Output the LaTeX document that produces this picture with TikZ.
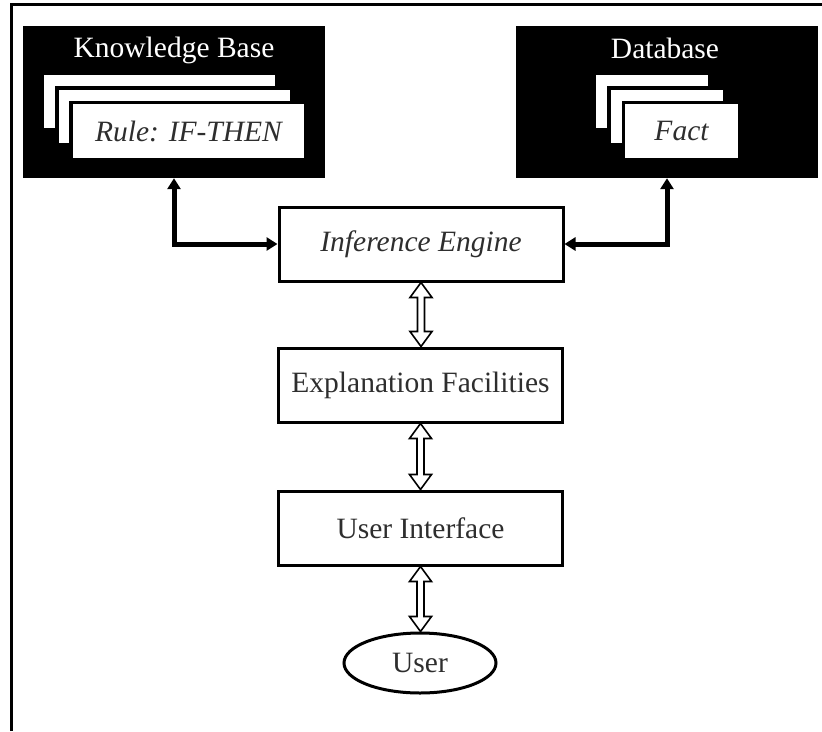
\documentclass[tikz,border=0pt]{standalone}
\usepackage{fontspec}
\setmainfont{Liberation Serif}
\usetikzlibrary{arrows.meta,shapes.geometric,calc}

% hollow double-headed arrow between two anchors lying on one vertical
\newcommand\hollowlink[2]{%
  \draw[hollow] let \p1=(#1), \p2=(#2) in
    (\x1,\y1) -- (\x1+11pt,\y1-15pt) -- (\x1+3.5pt,\y1-15pt)
    -- (\x1+3.5pt,\y2+15pt) -- (\x1+11pt,\y2+15pt) -- (\x1,\y2)
    -- (\x1-11pt,\y2+15pt) -- (\x1-3.5pt,\y2+15pt)
    -- (\x1-3.5pt,\y1-15pt) -- (\x1-11pt,\y1-15pt) -- cycle;}

\begin{document}
\begin{tikzpicture}[x=1pt,y=-1pt,
  txt/.style={font=\fontsize{29.5}{32}\selectfont, text=black!82},
  block/.style={txt, draw=black, line width=3pt, fill=white,
    minimum width=284pt, minimum height=74pt, inner sep=0pt},
  store/.style={fill=black, minimum width=302pt, minimum height=152pt, inner sep=0pt},
  title/.style={txt, text=white},
  card/.style={txt, draw=black, line width=3.5pt, fill=white,
    minimum height=57pt, inner sep=0pt},
  userell/.style={txt, ellipse, draw=black, line width=3pt, fill=white,
    minimum width=152pt, minimum height=60pt, inner sep=0pt},
  link/.style={line width=5pt,
    {Triangle[length=11pt,width=13pt]}-{Triangle[length=11pt,width=13pt]}},
  hollow/.style={draw=black, line width=1.6pt, fill=white, line join=miter}]

\useasboundingbox (0,0) rectangle (822,731);

% frame
\draw[line width=3pt] (11,731) -- (11,4.5) -- (822,4.5);

% knowledge base
\node[store] (kb) at (174,102) {};
\node[title] (kbt) at (174,50) {Knowledge Base};
\node[card, minimum width=235pt] (kb1) at (159.5,101.5) {};
\node[card, minimum width=235pt] (kb2) at (174.5,116.5) {};
\node[card, minimum width=235pt, font=\fontsize{29.5}{32}\selectfont\itshape] (kb3) at (188.5,131) {Rule: IF-THEN};

% database
\node[store] (db) at (667,102) {};
\node[title] (dbt) at (665,48) {Database};
\node[card, minimum width=116pt] (db1) at (652,101.5) {};
\node[card, minimum width=116pt] (db2) at (667,116.5) {};
\node[card, minimum width=116pt, font=\fontsize{29.5}{32}\selectfont\itshape] (db3) at (681.5,131) {Fact};

% processing chain
\node[block, font=\fontsize{29.5}{32}\selectfont\itshape] (ie) at (421,244) {Inference Engine};
\node[block] (ef) at (420.5,385) {Explanation Facilities};
\node[block] (ui) at (420.5,528) {User Interface};
\node[userell] (user) at (420,663) {User};

% connections
\draw[link] (kb.south) |- (ie.west);
\draw[link] (db.south) |- (ie.east);
\hollowlink{ie.south}{ef.north}
\hollowlink{ef.south}{ui.north}
\hollowlink{ui.south}{user.north}
\end{tikzpicture}
\end{document}
